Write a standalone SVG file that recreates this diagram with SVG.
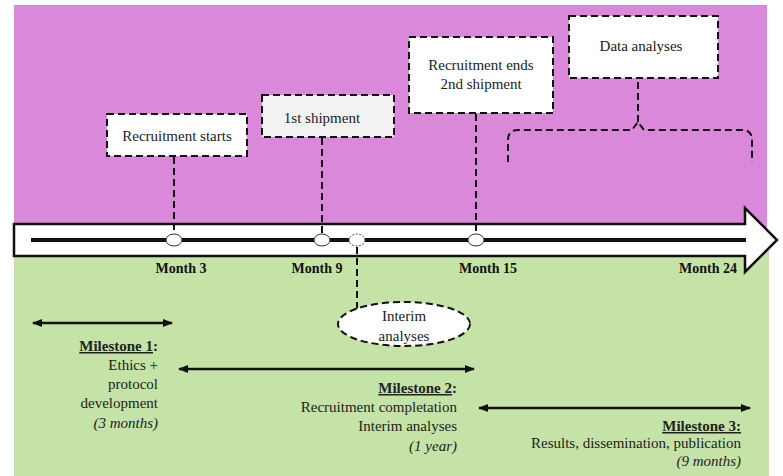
<svg xmlns="http://www.w3.org/2000/svg" width="783" height="476" viewBox="0 0 783 476">
<defs>
<style>
.t{font-family:'Liberation Serif','Times New Roman',Tinos,'DejaVu Serif',serif;font-size:15px;fill:#222}
.b{font-weight:bold}
.i{font-style:italic}
.m{font-family:'Liberation Serif','Times New Roman',Tinos,'DejaVu Serif',serif;font-size:14px;font-weight:bold;fill:#111}
.box{stroke:#111;stroke-width:2;stroke-dasharray:7 4}
.dl{fill:none;stroke:#111;stroke-width:2;stroke-dasharray:7 4}
.ma{stroke:#111;stroke-width:2.5;marker-start:url(#ah);marker-end:url(#ah)}
</style>
<marker id="ah" viewBox="0 0 10 10" refX="9" refY="5" markerWidth="4" markerHeight="4" orient="auto-start-reverse" markerUnits="strokeWidth">
<path d="M0,1 L10,5 L0,9 Z" fill="#111"/>
</marker>
</defs>
<rect x="0" y="0" width="783" height="476" fill="#fff"/>
<rect x="14" y="5" width="753" height="236" fill="#DA89DA"/>
<rect x="14" y="240" width="755" height="236" fill="#C5E3A6"/>

<g id="timeline">
<polygon points="14,224 745,224 745,208 777,240 745,272 745,256 14,256" fill="#fff" stroke="#111" stroke-width="2.5" stroke-linejoin="miter"/>
<line x1="31" y1="240" x2="746" y2="240" stroke="#111" stroke-width="4"/>
</g>

<g id="connectors">
<line class="dl" x1="174" y1="157" x2="174" y2="234"/>
<line class="dl" x1="322" y1="138" x2="322" y2="234"/>
<line class="dl" x1="476" y1="114" x2="476" y2="234"/>
<line class="dl" x1="357" y1="247" x2="357" y2="310"/>
<line class="dl" x1="638" y1="82" x2="638" y2="122"/>
<path class="dl" d="M508,162 L508,140 Q508,130 518,130 L632,130 L638,122 L644,130 L742,130 Q752,130 752,140 L752,162"/>
<line class="ma" x1="33" y1="323" x2="172" y2="323"/>
<line class="ma" x1="179" y1="369" x2="474" y2="369"/>
<line class="ma" x1="479" y1="408" x2="750" y2="408"/>
</g>

<g id="m3">
<ellipse cx="174" cy="240" rx="8" ry="6" fill="#fff" stroke="#333" stroke-width="1"/>
<text class="m" font-family="Liberation Serif, serif" x="181" y="273" text-anchor="middle">Month 3</text>
</g>
<g id="m9">
<ellipse cx="322" cy="240" rx="8" ry="6" fill="#fff" stroke="#333" stroke-width="1"/>
<text class="m" x="317" y="273" text-anchor="middle">Month 9</text>
</g>
<g id="interimdot">
<ellipse cx="357" cy="240" rx="8" ry="6" fill="#fff" stroke="#444" stroke-width="1" stroke-dasharray="2 1.5"/>
</g>
<g id="m15">
<ellipse cx="476" cy="240" rx="8" ry="6" fill="#fff" stroke="#333" stroke-width="1"/>
<text class="m" x="488" y="273" text-anchor="middle">Month 15</text>
</g>
<g id="m24">
<text class="m" x="708" y="273" text-anchor="middle">Month 24</text>
</g>

<g id="recruitment-starts">
<rect class="box" x="107" y="114" width="140" height="42" fill="#fff"/>
<text class="t" x="177" y="141" text-anchor="middle">Recruitment starts</text>
</g>
<g id="first-shipment">
<rect class="box" x="262" y="95" width="132" height="42" fill="#F2F2F2"/>
<text class="t" x="322" y="123" text-anchor="middle">1st shipment</text>
</g>
<g id="recruitment-ends">
<rect class="box" x="409" y="37" width="144" height="76" fill="#fff"/>
<text class="t" x="481" y="70" text-anchor="middle">Recruitment ends</text>
<text class="t" x="481" y="89" text-anchor="middle">2nd shipment</text>
</g>
<g id="data-analyses">
<rect class="box" x="569" y="16" width="149" height="62" fill="#fff"/>
<text class="t" x="641" y="51" text-anchor="middle">Data analyses</text>
</g>
<g id="interim-analyses">
<ellipse cx="404" cy="324" rx="66" ry="22" fill="#fff" stroke="#111" stroke-width="2" stroke-dasharray="7 4"/>
<text class="t" x="404" y="321" text-anchor="middle">Interim</text>
<text class="t" x="404" y="341" text-anchor="middle">analyses</text>
</g>

<g id="milestone1">
<text class="t" text-anchor="end"><tspan x="158" y="351" class="b"><tspan text-decoration="underline">Milestone 1</tspan>:</tspan><tspan x="158" y="370">Ethics +</tspan><tspan x="158" y="389">protocol</tspan><tspan x="158" y="408">development</tspan><tspan x="158" y="428" class="i">(3 months)</tspan></text>
</g>
<g id="milestone2">
<text class="t" text-anchor="end"><tspan x="457" y="393" class="b"><tspan text-decoration="underline">Milestone 2</tspan>:</tspan><tspan x="457" y="412">Recruitment completation</tspan><tspan x="457" y="431">Interim analyses</tspan><tspan x="457" y="451" class="i">(1 year)</tspan></text>
</g>
<g id="milestone3">
<text class="t" text-anchor="end"><tspan x="741" y="431" class="b" text-decoration="underline">Milestone 3:</tspan><tspan x="741" y="448">Results, dissemination, publication</tspan><tspan x="741" y="466" class="i">(9 months)</tspan></text>
</g>
</svg>
